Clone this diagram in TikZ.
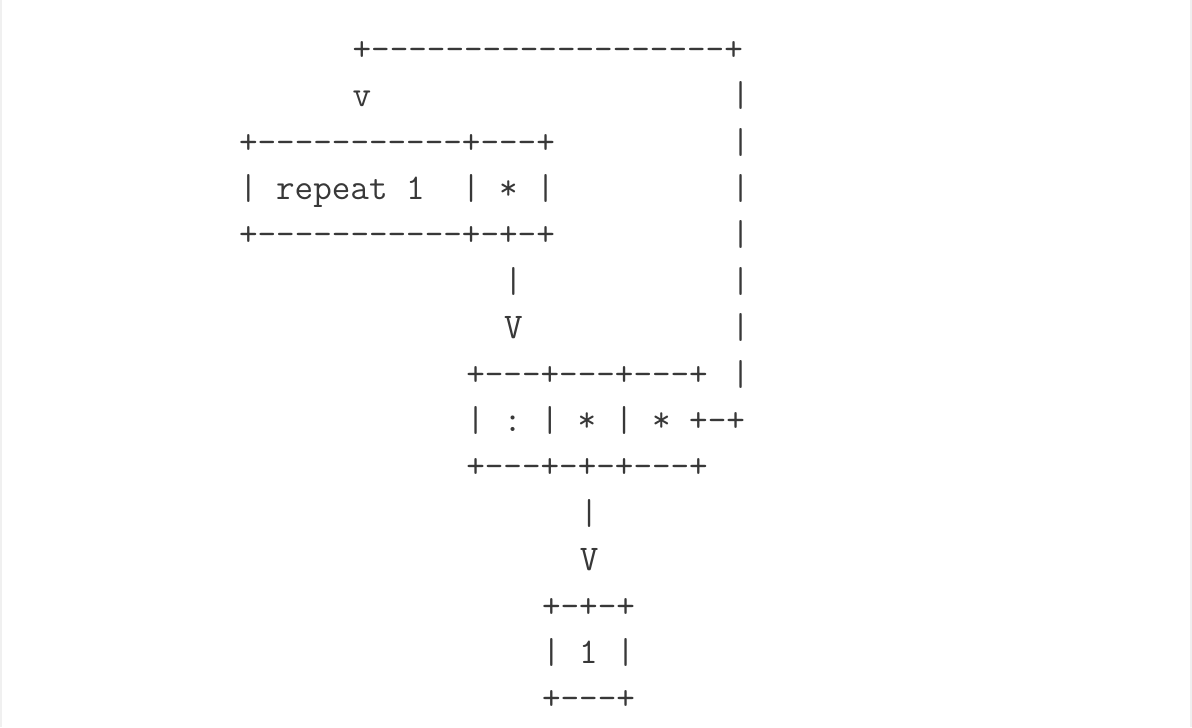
\documentclass[tikz,border=0pt]{standalone}
\begin{document}
\begin{tikzpicture}[x=9.47pt, y=-23.2pt,
	ascii/.style={anchor=base west, inner sep=0pt, text=black!78,
		font=\fontsize{18.04}{23.2}\selectfont\ttfamily}]
		\useasboundingbox (-13.1,-1.30) rectangle (49.84,14.37);
		\fill[black!6] (-13.1,-1.30) rectangle ++(0.1,15.67);
		\fill[black!6] (49.84,-1.30) rectangle ++(-0.1,15.67);
		% loop back from the last star
		\node[ascii] (topline) at (5.5,0) {+-------------------+};
		\node[ascii] (toparrow) at (5.5,1) {v};
		\foreach \r in {1,...,7} \node[ascii] (back\r) at (25.5,\r) {|};
		% repeat 1
		\node[ascii] (reptop) at (-0.5,2) {+-----------+---+};
		\node[ascii] (repmid) at (-0.5,3) {|\ repeat\ 1\ \ |\ *\ |};
		\node[ascii] (repbot) at (-0.5,4) {+-----------+-+-+};
		\node[ascii] (linkA) at (13.5,5) {|};
		\node[ascii] (arrowA) at (13.5,6) {V};
		% : * *
		\node[ascii] (seqtop) at (11.5,7) {+---+---+---+};
		\node[ascii] (seqmid) at (11.5,8) {|\ :\ |\ *\ |\ *\ +-+};
		\node[ascii] (seqbot) at (11.5,9) {+---+-+-+---+};
		\node[ascii] (linkB) at (17.5,10) {|};
		\node[ascii] (arrowB) at (17.5,11) {V};
		% 1
		\node[ascii] (onetop) at (15.5,12) {+-+-+};
		\node[ascii] (onemid) at (15.5,13) {|\ 1\ |};
		\node[ascii] (onebot) at (15.5,14) {+---+};
\end{tikzpicture}
\end{document}
